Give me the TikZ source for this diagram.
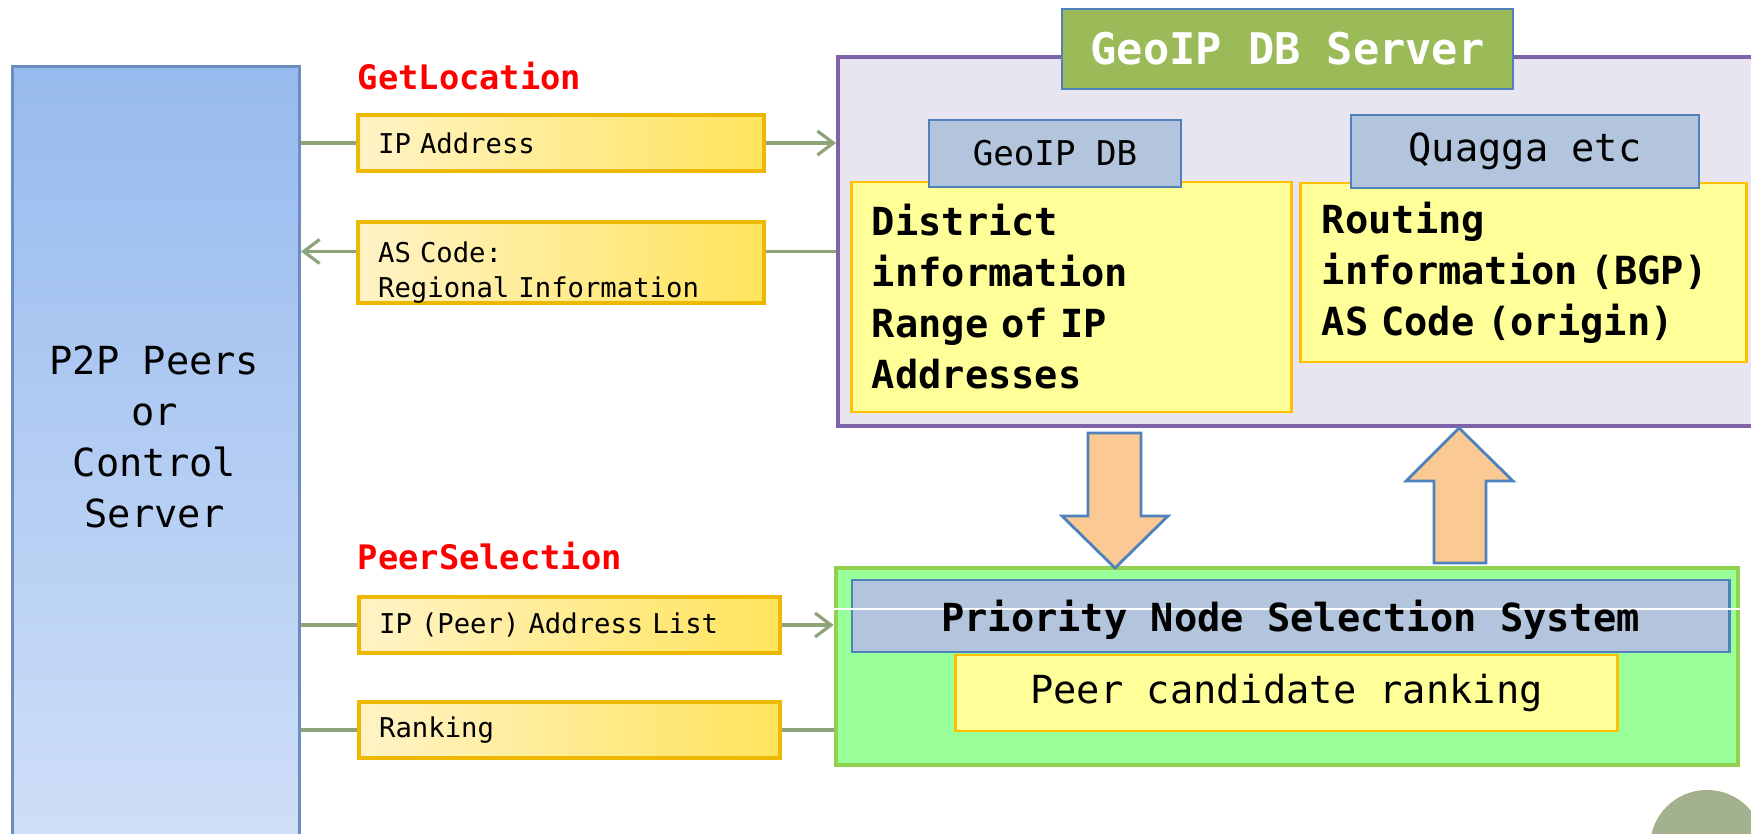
\documentclass[tikz,border=0pt]{standalone}
\usepackage{fontspec}
\setmainfont{DejaVu Sans Mono}[WordSpace={1,0,0}]
\usetikzlibrary{arrows.meta,positioning,calc}

\definecolor{peerblue}{HTML}{97BAEE}
\definecolor{peerlight}{HTML}{D2E1F8}
\definecolor{peeredge}{HTML}{6C8EBF}
\definecolor{msgedge}{HTML}{EFB800}
\definecolor{msgleft}{HTML}{FFF3C6}
\definecolor{msgright}{HTML}{FFE45C}
\definecolor{linkgreen}{HTML}{8DA47B}
\definecolor{srvedge}{HTML}{7F63A8}
\definecolor{srvfill}{HTML}{E8E5F1}
\definecolor{titlegreen}{HTML}{9BBB59}
\definecolor{hdrblue}{HTML}{B3C5DD}
\definecolor{hdredge}{HTML}{4F81BD}
\definecolor{infoyellow}{HTML}{FFFF99}
\definecolor{infoedge}{HTML}{FFC000}
\definecolor{selgreen}{HTML}{99FF99}
\definecolor{seledge}{HTML}{92D050}
\definecolor{peach}{HTML}{FBC993}
\definecolor{dotgreen}{HTML}{A3B18F}

\newcommand\msgfont{\fontsize{7.75}{10}\selectfont}
\newcommand\bigfont{\fontsize{11}{14.5}\selectfont}
\newcommand\titlefont{\fontsize{12.4}{15}\selectfont}
\newcommand\tagfont{\fontsize{9.6}{12}\selectfont}
\newcommand\hdrfont{\fontsize{9.7}{12}\selectfont}

\begin{document}
\begin{tikzpicture}[x=0.01cm, y=-0.01cm,
    >={Straight Barb[length=0.16cm,width=0.24cm]},
    link/.style={draw=linkgreen, line width=0.9pt},
    msgbox/.style={draw=msgedge, line width=1.2pt, left color=msgleft, right color=msgright,
        font=\msgfont, align=left, inner xsep=0.2cm, inner ysep=0pt, anchor=west},
    hdrbox/.style={draw=hdredge, line width=0.7pt, fill=hdrblue, inner sep=0pt},
    infobox/.style={draw=infoedge, line width=0.8pt, fill=infoyellow, inner sep=0pt},
    optag/.style={text=red, font=\tagfont\bfseries, anchor=west, inner sep=0pt},
    blockarrow/.style={draw=hdredge, line width=0.8pt, fill=peach, line join=miter}]
    \clip (0,0) rectangle (1751,833);

    \node[draw=peeredge, line width=0.8pt, top color=peerblue, bottom color=peerlight,
        minimum width=2.87cm, minimum height=8.2cm, anchor=north west] (peers) at (11,65) {};
    \node[font=\bigfont, align=center] (peerstxt) at (154.5,437) {P2P Peers\\or\\Control\\Server};

    \node[draw=srvedge, line width=1.2pt, fill=srvfill, minimum width=9.4cm,
        minimum height=3.69cm, anchor=north west] (server) at (836,55) {};
    \node[draw=hdredge, line width=0.7pt, fill=titlegreen, text=white, font=\titlefont\bfseries,
        minimum width=4.51cm, minimum height=0.8cm] (title) at (1287.5,49) {GeoIP DB Server};
    \node[infobox, text width=3.99cm, inner xsep=0.2cm, minimum height=2.3cm, align=left,
        font=\bigfont\bfseries] (district) at (1071.5,297) {District\\information\\Range of IP\\Addresses};
    \node[hdrbox, minimum width=2.52cm, minimum height=0.67cm, font=\hdrfont] (geodb) at (1055,153.5) {GeoIP DB};
    \node[infobox, text width=4.03cm, inner xsep=0.21cm, minimum height=1.79cm, align=left,
        font=\bigfont\bfseries] (routing) at (1523.5,272.5) {Routing\\information (BGP)\\AS Code (origin)};
    \node[hdrbox, minimum width=3.48cm, minimum height=0.73cm, font=\bigfont] (quagga) at (1525,151.5) {Quagga etc};

    \node[draw=seledge, line width=1.2pt, fill=selgreen, minimum width=9.02cm,
        minimum height=1.97cm] (select) at (1287,666.5) {};
    \node[hdrbox, minimum width=8.77cm, minimum height=0.72cm] (priority) at (1290.5,616) {};
    \draw[white, line width=0.4pt] ([yshift=0.575cm]select.west) -- ([yshift=0.575cm]select.east);
    \node[font=\bigfont\bfseries] (prioritytxt) at (1290.5,620) {Priority Node Selection System};
    \node[infobox, minimum width=6.61cm, minimum height=0.76cm, font=\bigfont] (candidates) at (1286.5,693) {Peer candidate ranking};

    \draw[blockarrow] (1088,433) -- (1141,433) -- (1141,516) -- (1168,516) -- (1115,568) -- (1062,516) -- (1088,516) -- cycle;
    \draw[blockarrow] (1434,563) -- (1486,563) -- (1486,481) -- (1513,481) -- (1459,428) -- (1406,481) -- (1434,481) -- cycle;

    \node[optag] (getloc) at (357,76) {GetLocation};
    \node[msgbox, text width=3.66cm, minimum height=0.56cm] (ipmsg) at (356,143) {IP Address};
    \node[msgbox, text width=3.66cm, minimum height=0.79cm] (asmsg) at (356,262.5) {\rule{0pt}{0.4cm}AS Code:\\Regional Information};
    \node[optag] (peersel) at (357,556) {PeerSelection};
    \node[msgbox, text width=3.81cm, minimum height=0.56cm] (listmsg) at (357,625) {IP (Peer) Address List};
    \node[msgbox, text width=3.81cm, minimum height=0.56cm] (rankmsg) at (357,730) {Ranking};

    \coordinate (asin) at ([yshift=0.11cm]asmsg.west);
    \coordinate (asout) at ([yshift=0.11cm]asmsg.east);
    \draw[link] (peers.east |- ipmsg.west) -- (ipmsg.west);
    \draw[link,->] (ipmsg.east) -- (ipmsg.east -| server.west);
    \draw[link,->] (asin) -- (asin -| peers.east);
    \draw[link] (server.west |- asout) -- (asout);
    \draw[link] (peers.east |- listmsg.west) -- (listmsg.west);
    \draw[link,->] (listmsg.east) -- (listmsg.east -| select.west);
    \draw[link] (peers.east |- rankmsg.west) -- (rankmsg.west);
    \draw[link] (rankmsg.east) -- (rankmsg.east -| select.west);

    \fill[dotgreen] (1707,847) circle (0.57cm);
\end{tikzpicture}
\end{document}
